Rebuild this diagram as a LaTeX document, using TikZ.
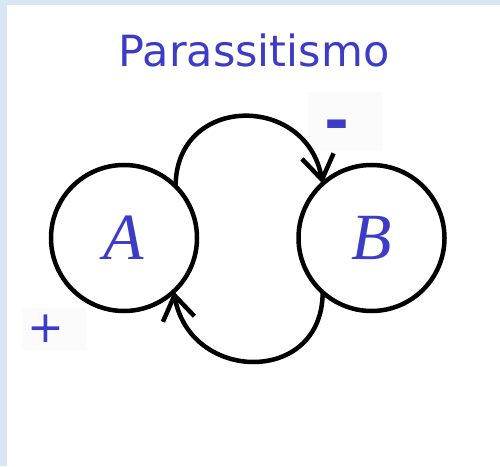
\documentclass[tikz,border=0pt]{standalone}
\usepackage{fontspec}
\setmainfont{Liberation Serif}
\setsansfont{DejaVu Sans}
\usepackage{tikz}
\usetikzlibrary{arrows.meta,positioning}
\definecolor{inkblue}{RGB}{60,60,200}
\definecolor{skyback}{RGB}{214,230,245}

\begin{document}
\begin{tikzpicture}[
  x = 1pt, y = 1pt,
  node distance = 101.5pt,
  species/.style = {draw, circle, line width=4.5pt, minimum size=146pt,
                    inner sep=0pt, outer sep=0pt, text=inkblue,
                    font=\fontsize{66}{66}\selectfont\itshape},
  heading/.style = {text=inkblue, anchor=base,
                    font=\sffamily\fontsize{43}{43}\selectfont},
  sign/.style    = {text=inkblue, fill=black!1.5, inner sep=0pt,
                    minimum width=64pt, minimum height=42pt,
                    font=\sffamily\fontsize{44}{44}\selectfont},
  effect/.style  = {-{Straight Barb[length=24pt,width=32pt]}, line width=4.5pt}
]
  % panel
  \fill[skyback] (0,0) rectangle (500,466);
  \fill[white] (7,0) rectangle (500,461);
  \useasboundingbox (0,0) rectangle (500,466);

  \node[heading] (title) at (254,399) {Parassitismo};

  \node[species] (A) at (124,228) {A};
  \node[species, right=of A] (B) {B};

  \node[sign, minimum width=75pt, minimum height=58pt] (minus) at (345,345)
       {\bfseries\fontsize{60}{60}\selectfont\smash{\raisebox{-21pt}{-}}\kern16pt};
  \node[sign] (plus) at (54,137) {+\kern16pt};

  \draw[effect] (A.45) to[out=90, in=100, looseness=1.6] (B.132);
  \draw[effect] (B.228) to[out=270, in=280, looseness=1.6] (A.313);
\end{tikzpicture}
\end{document}
